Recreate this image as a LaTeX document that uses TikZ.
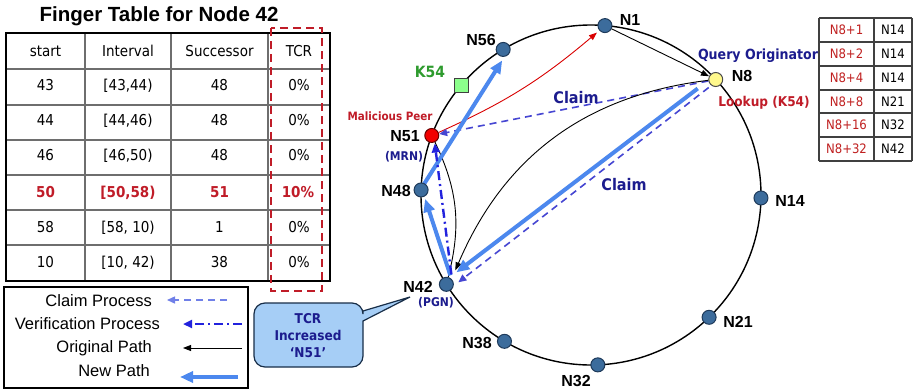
\documentclass[tikz,border=0pt]{standalone}
\usepackage{fontspec}
\setmainfont{Liberation Sans}
\newfontfamily\tah{DejaVu Sans Condensed}
\usetikzlibrary{arrows.meta,calc}
\pgfdeclarelayer{bg}
\pgfsetlayers{bg,main}
\definecolor{navy}{HTML}{1C1C8E}
\definecolor{dred}{HTML}{C01C28}
\definecolor{kgreen}{HTML}{2E9B2E}
\definecolor{nodeblue}{HTML}{3C6C9C}
\definecolor{nodeline}{HTML}{1E3A5A}
\definecolor{thickblue}{HTML}{4C88EE}
\definecolor{claimblue}{HTML}{4646D2}
\definecolor{legclaim}{HTML}{7080E8}
\definecolor{verblue}{HTML}{2222DD}
\definecolor{calloutfill}{HTML}{A6CEF6}
\definecolor{ftred}{HTML}{C02020}
\definecolor{gridgray}{HTML}{6E6E6E}
\begin{document}
\begin{tikzpicture}[x=1pt,y=1pt,
  txt/.style={inner sep=0pt, text depth=0pt},
  ringnode/.style={circle, draw=nodeline, fill=nodeblue, line width=1pt, minimum size=14pt, inner sep=0pt},
  nlbl/.style={txt, font=\bfseries\fontsize{16}{16}\selectfont},
  tablefont/.style={txt, font=\tah\fontsize{15}{15}\selectfont},
  tablered/.style={txt, font=\tah\bfseries\fontsize{15}{15}\selectfont, text=dred},
  ftfont/.style={txt, font=\tah\fontsize{13}{13}\selectfont},
  legfont/.style={txt, anchor=east, font=\fontsize{16.5}{16.5}\selectfont},
  origarrow/.style={line width=0.9pt, -{Triangle[length=8pt,width=6pt]}},
  redarrow/.style={draw=red!85!black, line width=0.9pt, -{Triangle[length=8pt,width=6pt]}},
  claimarrow/.style={draw=claimblue, line width=1.6pt, dash pattern=on 7pt off 5pt, -{Triangle[length=8pt,width=7pt]}},
  verarrow/.style={draw=verblue, line width=2.4pt, dash pattern=on 9pt off 4pt on 2pt off 4pt, -{Triangle[length=9pt,width=8pt]}},
  newarrow/.style={draw=thickblue, line width=4pt, -{Triangle[length=13pt,width=11pt]}},
  gridline/.style={draw=gridgray, line width=1.8pt}
]
\useasboundingbox (0,0) rectangle (913,-391);
\begin{pgfonlayer}{bg}
\fill[white] (0,0) rectangle (913,-391);
\end{pgfonlayer}

% ---------- Left finger table ----------
\node[txt, font=\bfseries\fontsize{20.5}{20.5}\selectfont] (title) at (159,-14) {Finger Table for Node 42};
\foreach \xx in {85,171,268} \draw[gridline] (\xx,-33) -- (\xx,-281);
\foreach \yy in {69,105,140,175,210,245} \draw[gridline] (6,-\yy) -- (330,-\yy);
\draw[line width=2pt] (6,-33) rectangle (330,-281);
\draw[dred, line width=2.6pt, dash pattern=on 8pt off 5pt] (271,-28) rectangle (322,-291);

\node[tablefont] (h1) at (45.5,-51) {start};
\node[tablefont] (h2) at (128,-51) {Interval};
\node[tablefont] (h3) at (219.5,-51) {Successor};
\node[tablefont] (h4) at (299,-51) {TCR};
\foreach \r/\yy/\a/\b/\c in {1/85/43/{[43,44)}/48, 2/120/44/{[44,46)}/48, 3/155/46/{[46,50)}/48, 5/227/58/{[58, 10)}/1, 6/262/10/{[10, 42)}/38}{
  \node[tablefont] (r\r a) at (45.5,-\yy) {\a};
  \node[tablefont] (r\r b) at (128,-\yy) {\b};
  \node[tablefont] (r\r c) at (219.5,-\yy) {\c};
  \node[tablefont] (r\r d) at (299,-\yy) {0\%};
}
\node[tablered] (r4a) at (45.5,-192) {50};
\node[tablered] (r4b) at (128,-192) {[50,58)};
\node[tablered] (r4c) at (219.5,-192) {51};
\node[tablered] (r4d) at (298,-192) {10\%};

% ---------- Legend ----------
\draw[line width=1.3pt] (4,-287) rectangle (248,-388);
\node[legfont] (l1) at (152,-301) {Claim Process};
\node[legfont] (l2) at (160,-324) {Verification Process};
\node[legfont] (l3) at (152,-347) {Original Path};
\node[legfont] (l4) at (150,-371) {New Path};
\coordinate (l1a) at (227,-300); \coordinate (l1b) at (167,-300);
\coordinate (l2a) at (242,-324); \coordinate (l2b) at (183,-324);
\coordinate (l3a) at (242,-348); \coordinate (l3b) at (183,-348);
\coordinate (l4a) at (238,-377); \coordinate (l4b) at (180,-377);
\draw[claimarrow, draw=legclaim, line width=1.4pt] (l1a) -- (l1b);
\draw[verarrow] (l2a) -- (l2b);
\draw[origarrow] (l3a) -- (l3b);
\draw[newarrow] (l4a) -- (l4b);

% ---------- Callout ----------
\draw[draw=nodeline!80!black, fill=calloutfill, line width=1.2pt]
  (308,-303) [rounded corners=11pt] -- (363,-303) [sharp corners] -- (363,-311) -- (410,-297) -- (363,-321)
  [rounded corners=11pt] -- (363,-367) -- (254,-367) -- (254,-303) [sharp corners] -- cycle;
\node[txt, align=center, text=navy, font=\tah\bfseries\fontsize{13.5}{17}\selectfont] (callout) at (308,-335) {TCR\\Increased\\‘N51’};

% ---------- Ring ----------
\coordinate (c) at (591,-195);
\node[ringnode] (n1) at ($(c)+(85.3:170)$) {};
\node[ringnode, fill=yellow!45, draw=black!70] (n8) at ($(c)+(42.8:170)$) {};
\node[ringnode] (n14) at ($(c)+(-1:170)$) {};
\node[ringnode] (n21) at ($(c)+(-46:170)$) {};
\node[ringnode] (n32) at ($(c)+(-87.7:170)$) {};
\node[ringnode] (n38) at ($(c)+(-120.6:170)$) {};
\node[ringnode] (n42) at ($(c)+(-148.3:170)$) {};
\node[ringnode] (n48) at ($(c)+(178.3:170)$) {};
\node[ringnode, fill=red!95!black, draw=red!40!black] (n51) at ($(c)+(159.5:170)$) {};
\node[ringnode] (n56) at ($(c)+(121.1:170)$) {};
\node[draw=black!75, fill=green!45!white, line width=1pt, minimum size=14pt, inner sep=0pt] (k54) at ($(c)+(139.8:170)$) {};

\begin{pgfonlayer}{bg}
\draw[line width=1.4pt] (c) circle[radius=170];
\draw[origarrow] (n1) -- (n8);
\draw[redarrow] (n51) to[bend right=8] ($(n1)+(-8,-7)$);
\draw[claimarrow] (n8) -- (n51);
\draw[origarrow] (n8) to[bend right=30] ($(n42)+(9,14)$);
\draw[line width=0.9pt] (n42) to[bend right=20] (n51);
\draw[newarrow] ($(n8)+(-18,-9)$) -- ($(n42)+(10,12)$);
\draw[claimarrow] ($(n8)+(-7,-8)$) -- ($(n42)+(12,2)$);
\draw[newarrow] ($(n42)+(4,9)$) -- ($(n48)+(4,-9)$);
\draw[newarrow] ($(n48)+(3,6)$) -- ($(n56)+(-1,-11)$);
\draw[verarrow] ($(n42)+(5,10)$) -- ($(n51)+(3,-8)$);
\end{pgfonlayer}

% ---------- Labels ----------
\node[nlbl] (ln1) at (630,-20) {N1};
\node[nlbl] (ln8) at (742,-76) {N8};
\node[nlbl] (ln14) at (790,-201) {N14};
\node[nlbl] (ln21) at (738,-322) {N21};
\node[nlbl] (ln32) at (576,-381) {N32};
\node[nlbl] (ln38) at (477,-343) {N38};
\node[nlbl] (ln42) at (418,-287) {N42};
\node[nlbl] (ln48) at (396,-191) {N48};
\node[nlbl] (ln51) at (405,-136) {N51};
\node[nlbl] (ln56) at (481,-40) {N56};
\node[txt, text=kgreen, font=\tah\bfseries\fontsize{15.5}{15.5}\selectfont] (lk54) at (430,-72) {K54};
\node[txt, text=dred, font=\tah\bfseries\fontsize{11.5}{11.5}\selectfont] (lmal) at (390,-116) {Malicious Peer};
\node[txt, text=navy, font=\tah\bfseries\fontsize{12}{12}\selectfont] (lmrn) at (404,-156) {(MRN)};
\node[txt, text=navy, font=\tah\bfseries\fontsize{12}{12}\selectfont] (lpgn) at (436,-302) {(PGN)};
\node[txt, text=navy, font=\tah\bfseries\fontsize{14}{14}\selectfont] (lqo) at (758,-54) {Query Originator};
\node[txt, text=dred, font=\tah\bfseries\fontsize{13.5}{13.5}\selectfont] (llk) at (764,-101) {Lookup (K54)};
\node[txt, text=navy, font=\tah\bfseries\fontsize{16}{16}\selectfont] (cl1) at (576,-97) {Claim};
\node[txt, text=navy, font=\tah\bfseries\fontsize{16}{16}\selectfont] (cl2) at (624,-184) {Claim};

% ---------- Right finger table ----------
\foreach \yy in {18,42,66,90,113,137,161} \draw[line width=1.2pt, draw=black!75] (819,-\yy) -- (912,-\yy);
\foreach \xx in {819,874,912} \draw[line width=1.2pt, draw=black!75] (\xx,-18) -- (\xx,-161);
\foreach \r/\yy/\a/\b in {1/30/N8+1/N14, 2/54/N8+2/N14, 3/78/N8+4/N14, 4/101.5/N8+8/N21, 5/125/N8+16/N32, 6/149/N8+32/N42}{
  \node[ftfont, text=ftred] (f\r a) at (846.5,-\yy) {\a};
  \node[ftfont] (f\r b) at (893,-\yy) {\b};
}
\end{tikzpicture}
\end{document}
